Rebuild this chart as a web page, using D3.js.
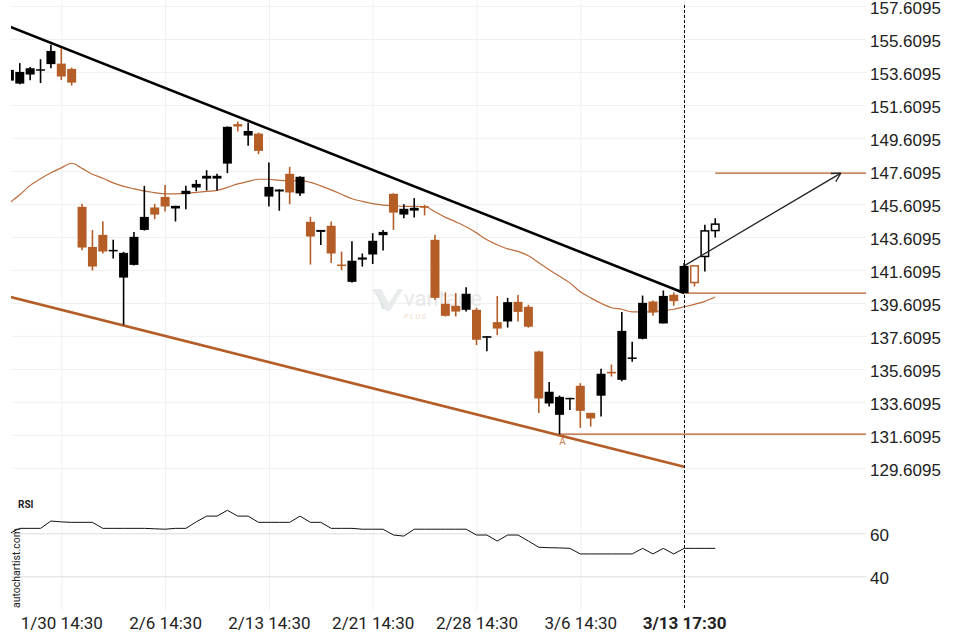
<!DOCTYPE html>
<html><head><meta charset="utf-8">
<script src="https://cdn.jsdelivr.net/npm/d3@7"></script>
<style>
html,body{margin:0;padding:0;background:#fff;}
svg{display:block;font-family:Roboto,"Noto Sans",sans-serif;}
</style></head>
<body>
<svg id="c" width="960" height="640"></svg>
<script>
// ---- data (candle index k = -5 .. 63; k=0 is "1/30 14:30") ----
const firstIndex = -5;
const opens = [153.08,152.90,153.45,153.69,154.08,154.11,153.79,145.43,143.00,143.73,
  142.74,141.14,141.91,144.03,145.39,146.03,145.33,146.20,146.60,147.14,
  147.14,148.05,150.44,149.75,149.87,146.05,146.36,147.43,146.24,144.52,
  143.91,144.28,141.93,140.88,142.23,142.54,143.71,146.22,144.96,145.20,
  145.46,143.43,139.55,139.43,139.19,139.19,137.49,138.44,138.48,139.67,
  139.37,136.66,133.51,132.82,133.79,134.58,132.94,133.98,135.43,134.94,
  136.26,137.43,139.69,138.36,140.10,140.20,141.85,142.42,143.99];
const highs = [153.85,154.14,153.91,154.38,155.25,155.05,153.87,145.61,144.02,144.56,
  143.43,142.70,143.90,146.70,145.61,146.76,145.49,146.70,147.06,147.65,
  147.43,150.30,150.60,150.54,149.93,148.11,146.48,147.85,147.29,144.82,
  144.03,144.54,142.72,143.35,142.60,143.83,144.03,146.25,145.59,145.96,
  145.55,143.73,140.24,140.20,140.56,139.31,137.59,140.02,139.91,140.08,
  139.49,136.70,134.81,133.99,133.85,134.74,132.94,135.61,135.87,139.05,
  137.25,140.05,139.75,140.36,140.24,142.02,141.85,144.34,144.74];
const lows = [153.00,152.86,153.11,152.93,153.83,153.11,152.78,142.80,141.57,142.60,
  142.30,138.28,141.87,143.99,144.68,145.14,144.54,145.29,146.38,146.42,
  146.42,147.47,150.00,149.13,148.62,145.45,145.19,145.59,146.08,141.93,
  143.11,142.02,141.59,140.84,141.81,141.96,142.78,144.03,144.74,144.78,
  144.91,139.79,138.78,138.78,139.08,137.05,136.68,137.65,138.11,138.48,
  138.10,132.93,133.33,131.65,133.11,132.03,132.11,132.72,135.14,134.86,
  136.04,137.40,138.82,138.36,139.43,140.20,140.60,141.51,143.57];
const closes = [153.73,153.61,153.83,153.77,154.88,153.33,152.96,142.96,141.81,142.72,
  142.82,142.64,143.61,144.82,144.96,145.45,145.49,146.40,146.82,147.31,
  147.31,150.28,150.30,150.03,148.82,146.64,146.48,146.30,147.25,143.63,
  144.03,142.60,141.85,142.16,142.36,143.37,143.91,145.08,145.31,145.37,
  145.37,139.91,138.82,139.08,140.16,137.37,137.59,138.05,139.65,139.06,
  138.16,133.81,134.22,133.91,133.85,133.06,132.60,135.31,135.33,137.91,
  136.30,139.61,139.02,140.03,139.71,141.85,140.84,143.97,144.38];
const hollowFrom = 61;   // candles after the pattern end are drawn hollow
const maValues = [145.67,146.16,146.73,147.13,147.49,147.79,148.07,147.76,147.40,147.16,
  146.88,146.67,146.52,146.38,146.29,146.22,146.22,146.25,146.31,146.37,
  146.43,146.61,146.82,146.97,147.10,147.10,147.03,147.00,147.03,146.91,
  146.70,146.46,146.19,145.92,145.76,145.62,145.53,145.49,145.46,145.46,
  145.45,145.13,144.79,144.52,144.22,143.85,143.43,143.13,142.88,142.73,
  142.46,142.04,141.61,141.22,140.82,140.28,139.91,139.58,139.31,139.22,
  139.06,139.06,139.08,139.13,139.22,139.37,139.52,139.70,139.96];
const rsiValues = [59.9,62.3,62.3,62.3,65.7,65.3,65.1,65.1,65.1,62.3,
  62.3,62.3,62.3,62.3,62.1,61.9,62.3,62.3,65.3,68.0,
  68.0,70.7,68.0,68.0,65.1,65.1,65.1,65.1,68.0,65.1,
  65.1,62.3,62.3,62.3,61.9,61.9,61.9,59.2,58.7,61.9,
  61.9,61.9,61.9,61.9,61.9,59.2,59.2,56.4,59.2,59.2,
  56.4,53.5,53.3,53.2,53.0,50.4,50.4,50.4,50.4,50.4,
  50.4,53.0,50.4,53.0,50.4,53.0,53.0,53.0,53.0];
const xTickIndex = [0,10,20,30,40,50,60];
const xTickLabels = ["1/30 14:30","2/6 14:30","2/13 14:30","2/21 14:30","2/28 14:30","3/6 14:30","3/13 17:30"];
const priceTicks = [129.6095,131.6095,133.6095,135.6095,137.6095,139.6095,141.6095,143.6095,145.6095,147.6095,149.6095,151.6095,153.6095,155.6095,157.6095];
const rsiTicks = [40,60];
const resistanceLine = [{k:-5,v:156.36},{k:60,v:140.21}];
const supportLine = [{k:-5,v:139.98},{k:60,v:129.67}];
const levels = [{k:48,v:131.65},{k:60,v:140.20},{k:63,v:147.47}];
const forecastArrow = [{k:60,v:141.85},{k:75.1,v:147.47}];
const eventIndex = 60;
const pointA = {k:48, v:131.65, label:"A"};

// ---- layout ----
const brown = "#b55d27";
const left = 11, right = 866;
const svg = d3.select("#c");
const x = d3.scaleLinear().domain([0,60]).range([61.3,684.1]);
const y = d3.scaleLinear().domain([129.6095,157.6095]).range([467.8,5.9]);
const yr = d3.scaleLinear().domain([40,60]).range([576.3,533.3]);

const candles = opens.map((o,i)=>({k:i+firstIndex,o,h:highs[i],l:lows[i],c:closes[i],ma:maValues[i],rsi:rsiValues[i]}));

svg.append("defs").append("clipPath").attr("id","clipMain")
  .append("rect").attr("x",left).attr("y",0).attr("width",right-left).attr("height",490);
svg.select("defs").append("clipPath").attr("id","clipRsi")
  .append("rect").attr("x",left).attr("y",490).attr("width",right-left).attr("height",125);

// vertical grid + x labels
const xAxis = d3.axisBottom(x).tickValues(xTickIndex).tickSize(-610).tickPadding(8)
  .tickFormat((d,i)=>xTickLabels[i]);
const gx = svg.append("g").attr("transform","translate(0,610)").call(xAxis);
gx.select(".domain").remove();
gx.selectAll(".tick line").attr("stroke","#efefef").attr("stroke-width",1);
gx.selectAll(".tick text").attr("font-size",17).attr("fill","#222").attr("font-family","Roboto")
  .attr("font-weight",d=>d===60?"bold":"normal").attr("dy","0.62em");

// horizontal grid + price labels
const yAxis = d3.axisRight(y).tickValues(priceTicks).tickSize(-(right-left)).tickPadding(4)
  .tickFormat(d=>d.toFixed(4));
const gy = svg.append("g").attr("transform",`translate(${right},0)`).call(yAxis);
gy.select(".domain").remove();
gy.selectAll(".tick line").attr("stroke","#f0f0f0");
gy.selectAll(".tick text").attr("font-size",17).attr("fill","#222").attr("dy","0.45em");

// RSI grid
const rAxis = d3.axisRight(yr).tickValues(rsiTicks).tickSize(-(right-left)).tickPadding(4);
const gr = svg.append("g").attr("transform",`translate(${right},0)`).call(rAxis);
gr.select(".domain").remove();
gr.selectAll(".tick line").attr("stroke","#dcdcdc");
gr.selectAll(".tick text").attr("font-size",17).attr("fill","#222").attr("dy","0.45em");

// watermark
const wm = svg.append("g").attr("transform","translate(372,289)").attr("opacity",0.9);
wm.append("path").attr("d","M0,0 L9,0 L17,14 L26,0 L31,0 L18,22 L14,22 Z").attr("fill","#e6eaea");
wm.append("path").attr("d","M4,2 L14,20 L10,20 Z").attr("fill","#dde3e3");
wm.append("text").attr("x",32).attr("y",17).attr("font-size",22).attr("fill","#e7e7e7").text("vantage");
wm.append("text").attr("x",32).attr("y",30).attr("font-size",7.5).attr("font-style","italic")
  .attr("letter-spacing",1.5).attr("fill","#f2d7c5").text("PLUS");

const main = svg.append("g").attr("clip-path","url(#clipMain)");

// moving average
main.append("path").datum(candles)
  .attr("d",d3.line().x(d=>x(d.k)).y(d=>y(d.ma)).curve(d3.curveMonotoneX))
  .attr("fill","none").attr("stroke",brown).attr("stroke-width",1.2).attr("opacity",0.9);

// trendlines
const tl = d3.line().x(d=>x(d.k)).y(d=>y(d.v));
main.append("path").datum(resistanceLine).attr("d",tl).attr("stroke","#000").attr("stroke-width",2.6).attr("fill","none");
main.append("path").datum(supportLine).attr("d",tl).attr("stroke",brown).attr("stroke-width",2.6).attr("fill","none");

// levels
main.selectAll(".lvl").data(levels).join("line").attr("class","lvl")
  .attr("x1",d=>x(d.k)).attr("x2",right).attr("y1",d=>y(d.v)).attr("y2",d=>y(d.v))
  .attr("stroke",brown).attr("stroke-width",1.2);

// candles
const bw = 9;
const cg = main.selectAll(".cd").data(candles).join("g").attr("class","cd");
cg.append("line").attr("x1",d=>x(d.k)).attr("x2",d=>x(d.k))
  .attr("y1",d=>y(d.h)).attr("y2",d=>y(d.l))
  .attr("stroke",d=>d.c>=d.o?"#000":brown).attr("stroke-width",1.6);
cg.append("rect")
  .attr("x",d=>x(d.k)-bw/2 + (d.k>=hollowFrom?0.75:0))
  .attr("width",d=>d.k>=hollowFrom?bw-1.5:bw)
  .attr("y",d=>y(Math.max(d.o,d.c)))
  .attr("height",d=>Math.max(1.5,y(Math.min(d.o,d.c))-y(Math.max(d.o,d.c))))
  .attr("fill",d=>d.k>=hollowFrom?"#fff":(d.c>=d.o?"#000":brown))
  .attr("stroke",d=>d.k>=hollowFrom?(d.c>=d.o?"#000":brown):"none")
  .attr("stroke-width",1.5);

// forecast arrow
const a0 = forecastArrow[0], a1 = forecastArrow[1];
const ax0=x(a0.k), ay0=y(a0.v), ax1=x(a1.k), ay1=y(a1.v);
svg.append("line").attr("x1",ax0).attr("y1",ay0).attr("x2",ax1).attr("y2",ay1)
  .attr("stroke","#222").attr("stroke-width",1.3);
const ang = Math.atan2(ay1-ay0, ax1-ax0);
[-1,1].forEach(s=>{
  const a = ang + Math.PI + s*0.5;
  svg.append("line").attr("x1",ax1).attr("y1",ay1)
    .attr("x2",ax1+10*Math.cos(a)).attr("y2",ay1+10*Math.sin(a))
    .attr("stroke","#222").attr("stroke-width",1.3);
});

// point label A
svg.append("text").attr("x",x(pointA.k)+3).attr("y",y(pointA.v)+11).attr("text-anchor","middle")
  .attr("font-size",10).attr("fill",brown).attr("opacity",0.8).text(pointA.label);

// RSI
svg.append("g").attr("clip-path","url(#clipRsi)").append("path").datum(candles)
  .attr("d",d3.line().x(d=>x(d.k)).y(d=>yr(d.rsi)))
  .attr("fill","none").attr("stroke","#111").attr("stroke-width",1);
svg.append("text").attr("x",18).attr("y",508).attr("font-size",10).attr("font-weight","bold").attr("fill","#222").text("RSI");
svg.append("text").attr("transform","translate(20,608) rotate(-90)").attr("font-size",10.5)
  .attr("fill","#222").text("autochartist.com");

// event dashed line
const ex = Math.round(x(eventIndex)) + 0.5;
svg.append("line").attr("x1",ex).attr("x2",ex).attr("y1",5).attr("y2",608)
  .attr("stroke","#000").attr("stroke-width",1).attr("stroke-dasharray","3,2");
</script>
</body></html>
